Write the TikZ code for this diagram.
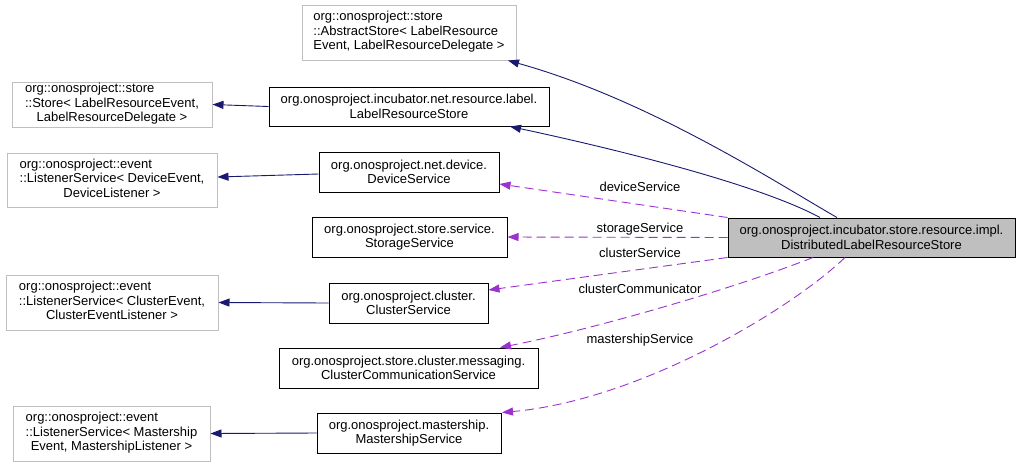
\documentclass[tikz,border=0pt]{standalone}
\usepackage{fontspec}
\setmainfont{Liberation Sans}
\usetikzlibrary{arrows.meta}
\definecolor{navyc}{HTML}{191970}
\definecolor{purp}{HTML}{9A32CD}
\definecolor{grayb}{HTML}{BFBFBF}
\newcommand{\gl}[3]{\begin{tabular}{@{}l@{}}#1\\#2\\\multicolumn{1}{@{}c@{}}{#3}\end{tabular}}
\begin{document}
\begin{tikzpicture}[x=1pt,y=-1pt,
  every node/.style={font=\fontsize{13}{14.5}\selectfont, inner sep=0pt},
  extbox/.style={draw=grayb, line width=1pt, rectangle, align=center},
  clsbox/.style={draw=black, line width=1pt, rectangle, align=center},
  mainbox/.style={draw=black, fill=grayb, line width=1pt, rectangle, align=center},
  inh/.style={draw=navyc, line width=0.9pt, -{Triangle[length=11pt,width=8pt]}},
  dep/.style={draw=purp, line width=0.9pt, dash pattern=on 9pt off 5pt, -{Triangle[length=11pt,width=8pt]}},
  elabel/.style={font=\fontsize{13}{14.5}\selectfont}]
\useasboundingbox (0,0) rectangle (1021,467);
% nodes
\node[extbox, minimum width=214pt, minimum height=55pt] (abs) at (409,32.5)
  {\gl{org::onosproject::store}{::AbstractStore< LabelResource}{Event, LabelResourceDelegate >}};
\node[extbox, minimum width=200pt, minimum height=45pt] (store) at (112,104.5)
  {\gl{org::onosproject::store}{::Store< LabelResourceEvent,}{LabelResourceDelegate >}};
\node[clsbox, minimum width=280pt, minimum height=39pt] (lrs) at (409,106.5)
  {org.onosproject.incubator.net.resource.label.\\LabelResourceStore};
\node[extbox, minimum width=210pt, minimum height=54pt] (lsd) at (112,180)
  {\gl{org::onosproject::event}{::ListenerService< DeviceEvent,}{DeviceListener >}};
\node[clsbox, minimum width=180pt, minimum height=40pt] (ds) at (409,172)
  {org.onosproject.net.device.\\DeviceService};
\node[clsbox, minimum width=195pt, minimum height=40pt] (ss) at (409.5,237)
  {org.onosproject.store.service.\\StorageService};
\node[extbox, minimum width=212pt, minimum height=55pt] (lsc) at (112,302.5)
  {\gl{org::onosproject::event}{::ListenerService< ClusterEvent,}{ClusterEventListener >}};
\node[clsbox, minimum width=159pt, minimum height=40pt] (cs) at (408.5,303)
  {org.onosproject.cluster.\\ClusterService};
\node[clsbox, minimum width=259pt, minimum height=40pt] (ccs) at (408.5,368)
  {org.onosproject.store.cluster.messaging.\\ClusterCommunicationService};
\node[extbox, minimum width=197pt, minimum height=55pt] (lsm) at (111.5,433.5)
  {\gl{org::onosproject::event}{::ListenerService< Mastership}{Event, MastershipListener >}};
\node[clsbox, minimum width=184pt, minimum height=40pt] (ms) at (409,433)
  {org.onosproject.mastership.\\MastershipService};
\node[mainbox, minimum width=287pt, minimum height=39pt] (dist) at (871.5,237.5)
  {org.onosproject.incubator.store.resource.impl.\\DistributedLabelResourceStore};
% inheritance edges
\draw[inh] (837,0 |- dist.north) .. controls (780,185) and (650,100) .. (508,0 |- abs.south);
\draw[inh] (820,0 |- dist.north) .. controls (760,185) and (620,150) .. (510,0 |- lrs.south);
\draw[inh] (lrs.west) -- (store.east);
\draw[inh] ([yshift=-2pt]ds.west) -- ([yshift=3pt]lsd.east);
\draw[inh] (cs.west) -- (lsc.east);
\draw[inh] (ms.west) -- (lsm.east);
% dependency edges
\draw[dep] (dist.north west) -- ([yshift=-12pt]ds.east);
\draw[dep] (dist.west) -- (ss.east);
\draw[dep] (dist.south west) -- ([yshift=13pt]cs.east);
\draw[dep] (813,0 |- dist.south) .. controls (730,290) and (590,330) .. (500,0 |- ccs.north);
\draw[dep] (845,0 |- dist.south) .. controls (790,310) and (640,400) .. (502,0 |- ms.north);
% labels
\node[elabel] (l1) at (640,187) {deviceService};
\node[elabel] (l2) at (640,229) {storageService};
\node[elabel] (l3) at (640,253) {clusterService};
\node[elabel] (l4) at (640,289) {clusterCommunicator};
\node[elabel] (l5) at (640,340) {mastershipService};
\end{tikzpicture}
\end{document}
